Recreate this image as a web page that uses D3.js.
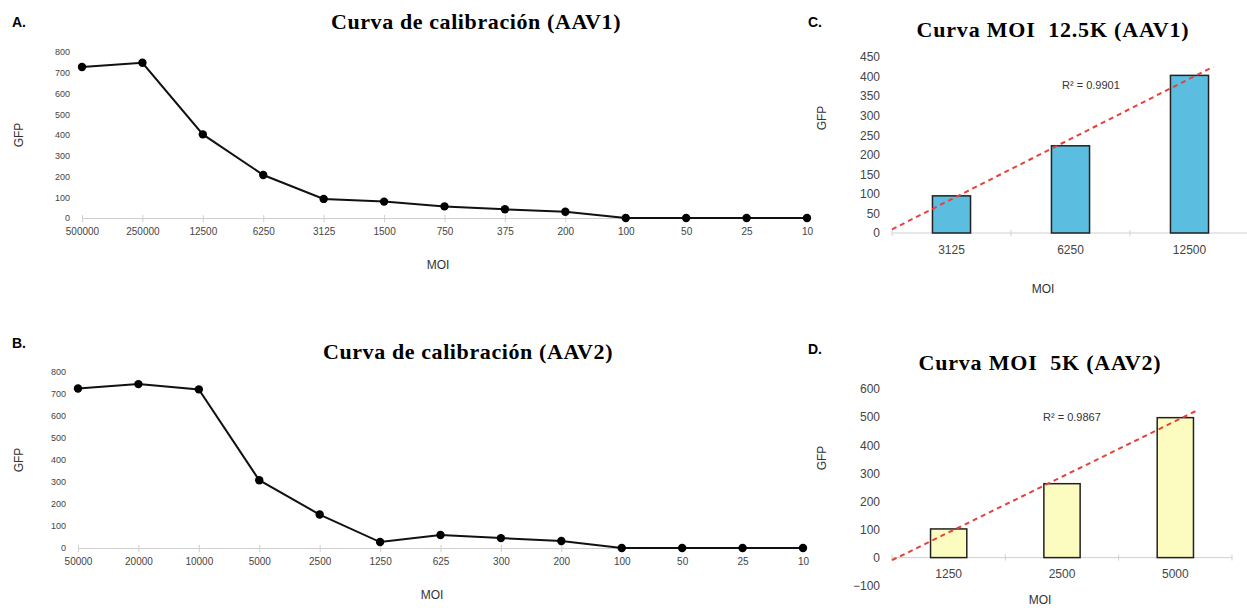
<!DOCTYPE html>
<html>
<head>
<meta charset="utf-8">
<script src="https://cdn.jsdelivr.net/npm/d3@7"></script>
<style>
  body { margin: 0; background: #fff; }
  svg { display: block; }
  .tick text { font-family: 'Liberation Sans', Arial, sans-serif; fill: #444; }
</style>
</head>
<body>
<div id="chart"></div>
<script>
// panel A - calibration AAV1
const moiA = ['500000', '250000', '12500', '6250', '3125', '1500', '750', '375', '200', '100', '50', '25', '10']
const gfpA = [728, 748, 403, 207, 92, 79, 56, 42, 30, 0, 0, 0, 0]

// panel B - calibration AAV2
const moiB = ['50000', '20000', '10000', '5000', '2500', '1250', '625', '300', '200', '100', '50', '25', '10']
const gfpB = [725, 745, 721, 308, 152, 27, 59, 45, 32, 0, 0, 0, 0]

// panel C - MOI 12.5K AAV1
const moiC = ['3125', '6250', '12500']
const gfpC = [95, 223, 403]

// panel D - MOI 5K AAV2
const moiD = ['1250', '2500', '5000']
const gfpD = [102, 263, 498]

const yTicksLine = d3.range(0, 801, 100)
const yTicksC = d3.range(0, 451, 50)
const yTicksD = d3.range(-100, 601, 100)

const width = 1247
const height = 608

const svg = d3
  .select('#chart')
  .append('svg')
  .attr('width', width)
  .attr('height', height)

const sans = "'Liberation Sans', Arial, sans-serif"
const serif = "'Liberation Serif', 'Times New Roman', serif"

function lineChart(opts) {
  const g = svg.append('g')
  const x = d3.scalePoint().domain(opts.labels).range([opts.left, opts.right])
  const y = d3.scaleLinear().domain([0, 800]).range([opts.bottom, opts.top])

  const yAxis = d3.axisLeft(y).tickValues(yTicksLine).tickSize(0).tickPadding(6)
  g.append('g')
    .attr('transform', 'translate(' + (opts.left - 6) + ',0)')
    .call(yAxis)
    .call(s => s.select('.domain').remove())
    .selectAll('text')
    .attr('font-size', 9)

  const xAxis = d3.axisBottom(x).tickSizeInner(4).tickSizeOuter(0).tickPadding(6)
  const ax = g.append('g')
    .attr('transform', 'translate(0,' + opts.bottom + ')')
    .call(xAxis)
  ax.select('.domain').attr('stroke', '#d0d0d0')
  ax.selectAll('.tick line').attr('stroke', '#d0d0d0').attr('y1', -3)
  ax.selectAll('text').attr('font-size', 10)

  const data = opts.labels.map((l, i) => ({ moi: l, gfp: opts.values[i] }))
  const line = d3.line().x(d => x(d.moi)).y(d => y(d.gfp))

  g.append('path')
    .datum(data)
    .attr('d', line)
    .attr('fill', 'none')
    .attr('stroke', '#111')
    .attr('stroke-width', 2)

  g.selectAll('circle')
    .data(data)
    .enter()
    .append('circle')
    .attr('cx', d => x(d.moi))
    .attr('cy', d => y(d.gfp))
    .attr('r', 4.2)
    .attr('fill', '#000')

  g.append('text')
    .attr('x', opts.titleX)
    .attr('y', opts.titleY)
    .attr('text-anchor', 'middle')
    .attr('font-family', serif)
    .attr('font-weight', 'bold')
    .attr('font-size', 22)
    .attr('letter-spacing', 0.6)
    .text(opts.title)

  g.append('text')
    .attr('x', 12)
    .attr('y', opts.letterY)
    .attr('font-family', sans)
    .attr('font-weight', 'bold')
    .attr('font-size', 14)
    .text(opts.letter)

  g.append('text')
    .attr('transform', 'translate(23,' + (opts.top + opts.bottom) / 2 + ') rotate(-90)')
    .attr('text-anchor', 'middle')
    .attr('font-family', sans)
    .attr('font-size', 12)
    .attr('fill', '#333')
    .text('GFP')

  g.append('text')
    .attr('x', opts.moiX)
    .attr('y', opts.moiY)
    .attr('text-anchor', 'middle')
    .attr('font-family', sans)
    .attr('font-size', 12)
    .attr('fill', '#333')
    .text('MOI')
}

function barChart(opts) {
  const g = svg.append('g')
  const x = d3.scaleBand().domain(opts.labels).range([opts.left, opts.right])
    .paddingInner(0.68).paddingOuter(0.34)
  const y = d3.scaleLinear().domain(opts.domain).range([opts.bottom, opts.top])

  const yAxis = d3.axisLeft(y).tickValues(opts.yTicks).tickSize(0).tickPadding(4)
  g.append('g')
    .attr('transform', 'translate(' + (opts.left - 8) + ',0)')
    .call(yAxis)
    .call(s => s.select('.domain').remove())
    .selectAll('text')
    .attr('font-size', 12)

  // baseline at zero with ticks between categories
  const y0 = y(0)
  g.append('line')
    .attr('x1', opts.left)
    .attr('x2', opts.right)
    .attr('y1', y0)
    .attr('y2', y0)
    .attr('stroke', '#d0d0d0')
  const bounds = d3.range(opts.labels.length + 1).map(i => x.range()[0] + i * x.step())
  g.selectAll('.sep')
    .data(bounds)
    .enter()
    .append('line')
    .attr('x1', d => d)
    .attr('x2', d => d)
    .attr('y1', y0 - 3)
    .attr('y2', y0 + 3)
    .attr('stroke', '#d0d0d0')

  const xAxis = d3.axisBottom(x).tickSize(0).tickPadding(opts.labelPad)
  g.append('g')
    .attr('transform', 'translate(0,' + y0 + ')')
    .call(xAxis)
    .call(s => s.select('.domain').remove())
    .selectAll('text')
    .attr('font-size', 12)

  const data = opts.labels.map((l, i) => ({ moi: l, gfp: opts.values[i], idx: i + 1 }))

  g.selectAll('rect')
    .data(data)
    .enter()
    .append('rect')
    .attr('x', d => x(d.moi))
    .attr('y', d => y(d.gfp))
    .attr('width', x.bandwidth())
    .attr('height', d => y0 - y(d.gfp))
    .attr('fill', opts.fill)
    .attr('stroke', '#222')
    .attr('stroke-width', 1.5)

  // linear trend line (least squares on category index)
  const reg = d3.mean(data, d => d.idx)
  const meanY = d3.mean(data, d => d.gfp)
  const slope = d3.sum(data, d => (d.idx - reg) * (d.gfp - meanY)) / d3.sum(data, d => (d.idx - reg) ** 2)
  const intercept = meanY - slope * reg
  const idxToX = i => x.range()[0] + (i - 0.5) * x.step()
  const t0 = 0.5
  const t1 = 3.2
  g.append('line')
    .attr('x1', idxToX(t0))
    .attr('y1', y(intercept + slope * t0))
    .attr('x2', idxToX(t1))
    .attr('y2', y(intercept + slope * t1))
    .attr('stroke', '#e8403a')
    .attr('stroke-width', 2)
    .attr('stroke-dasharray', '5,4')

  g.append('text')
    .attr('x', opts.rX)
    .attr('y', opts.rY)
    .attr('font-family', sans)
    .attr('font-size', 11)
    .attr('fill', '#333')
    .text(opts.r2)

  g.append('text')
    .attr('x', opts.titleX)
    .attr('y', opts.titleY)
    .attr('text-anchor', 'middle')
    .attr('font-family', serif)
    .attr('font-weight', 'bold')
    .attr('font-size', 22)
    .attr('letter-spacing', 0.8)
    .attr('xml:space', 'preserve')
    .text(opts.title)

  g.append('text')
    .attr('x', 808)
    .attr('y', opts.letterY)
    .attr('font-family', sans)
    .attr('font-weight', 'bold')
    .attr('font-size', 14)
    .text(opts.letter)

  g.append('text')
    .attr('transform', 'translate(826,' + opts.gfpY + ') rotate(-90)')
    .attr('text-anchor', 'middle')
    .attr('font-family', sans)
    .attr('font-size', 12)
    .attr('fill', '#333')
    .text('GFP')

  g.append('text')
    .attr('x', opts.moiX)
    .attr('y', opts.moiY)
    .attr('text-anchor', 'middle')
    .attr('font-family', sans)
    .attr('font-size', 12)
    .attr('fill', '#333')
    .text('MOI')
}

lineChart({
  labels: moiA, values: gfpA,
  left: 82, right: 807, top: 52, bottom: 218,
  title: 'Curva de calibración (AAV1)', titleX: 476, titleY: 29,
  letter: 'A.', letterY: 27, moiX: 438, moiY: 269
})

lineChart({
  labels: moiB, values: gfpB,
  left: 78, right: 803, top: 372, bottom: 548,
  title: 'Curva de calibración (AAV2)', titleX: 468, titleY: 359,
  letter: 'B.', letterY: 348, moiX: 432, moiY: 599
})

barChart({
  labels: moiC, values: gfpC, domain: [0, 450], yTicks: yTicksC,
  left: 892, right: 1249, top: 57, bottom: 233, labelPad: 12,
  fill: '#5bbde0', r2: 'R² = 0.9901', rX: 1062, rY: 89,
  title: 'Curva MOI  12.5K (AAV1)', titleX: 1053, titleY: 37,
  letter: 'C.', letterY: 27, gfpY: 118, moiX: 1043, moiY: 293
})

barChart({
  labels: moiD, values: gfpD, domain: [-100, 600], yTicks: yTicksD,
  left: 892, right: 1232, top: 389, bottom: 585.7, labelPad: 12,
  fill: '#fdfcc0', r2: 'R² = 0.9867', rX: 1043, rY: 421,
  title: 'Curva MOI  5K (AAV2)', titleX: 1040, titleY: 370,
  letter: 'D.', letterY: 354, gfpY: 458, moiX: 1040, moiY: 604
})
</script>
</body>
</html>
